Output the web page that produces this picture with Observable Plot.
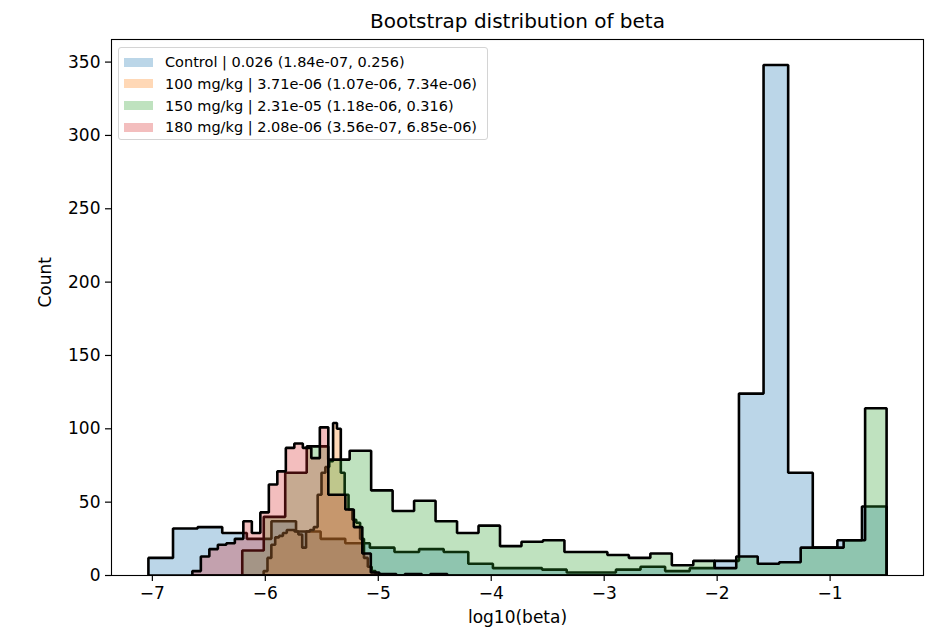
<!DOCTYPE html>
<html>
<head>
<meta charset="utf-8">
<script src="https://cdn.jsdelivr.net/npm/d3@7"></script>
<script src="https://cdn.jsdelivr.net/npm/@observablehq/plot@0.6"></script>
<style>
  body { margin: 0; background: #fff; font-family: "DejaVu Sans", sans-serif; }
  #wrap { position: relative; width: 938px; height: 638px; }
  #legend { position: absolute; left: 118px; top: 47px; width: 370px; height: 93px;
            border: 1px solid #d4d4d4; border-radius: 3px; background: rgba(255,255,255,0.8);
            box-sizing: border-box; }
  .row { position: absolute; left: 5px; height: 22px; display: flex; align-items: center;
         font-size: 14.5px; color: #000; white-space: nowrap; }
  .sw { width: 29px; height: 9px; margin-right: 12px; }
</style>
</head>
<body>
<div id="wrap"><div id="legend"></div></div>
<script>
// ---- data ----
const groups = ["Control", "100 mg/kg", "150 mg/kg", "180 mg/kg"];
const legendLabels = [
  "Control | 0.026 (1.84e-07, 0.256)",
  "100 mg/kg | 3.71e-06 (1.07e-06, 7.34e-06)",
  "150 mg/kg | 2.31e-05 (1.18e-06, 0.316)",
  "180 mg/kg | 2.08e-06 (3.56e-07, 6.85e-06)"
];
const colors = ["#1f77b4", "#ff7f0e", "#2ca02c", "#d62728"];

// each histogram: 30 bins over its own [min, max] of log10(beta)
const controlRange = [-7.035, -0.5];
const controlCounts = [12, 32, 33, 29, 25, 37, 30, 25, 22, 19, 16, 18, 16, 8, 5, 5, 4, 2, 2, 4, 6, 3, 5, 10, 124, 348, 70, 19, 24, 47];

const mg100Range = [-6.015, -4.99];
const mg100Counts = [3, 12, 21, 26, 27, 29, 31, 31, 30, 28, 19, 30, 31, 33, 55, 70, 74, 78, 104, 100, 70, 55, 45, 38, 36, 25, 12, 6, 3, 1];

const mg150Range = [-6.204, -0.5];
const mg150Counts = [17, 40, 70, 88, 79, 85, 58, 44, 51, 37, 29, 34, 20, 23, 24, 16, 16, 14, 12, 15, 7, 10, 5, 13, 8, 9, 19, 19, 24, 114];

const mg180Range = [-6.646, -4.389];
const mg180Counts = [3, 13, 18, 21, 22, 25, 37, 29, 43, 62, 71, 87, 90, 87, 80, 101, 55, 55, 45, 33, 15, 2, 1, 1, 0, 1, 1, 0, 1, 1];

const xTicks = [-7, -6, -5, -4, -3, -2, -1];
const yTicks = [0, 50, 100, 150, 200, 250, 300, 350];

// ---- build step outlines from bins ----
function stepPoints(group, range, counts) {
  const n = counts.length, [lo, hi] = range;
  const edges = d3.range(n + 1).map(i => lo + (hi - lo) * i / n);
  const pts = [{group, x: edges[0], y: 0}];
  counts.forEach((c, i) => pts.push({group, x: edges[i], y: c}));
  pts.push({group, x: edges[n], y: counts[n - 1]});
  pts.push({group, x: edges[n], y: 0});
  return pts;
}
const series = [
  stepPoints(groups[0], controlRange, controlCounts),
  stepPoints(groups[1], mg100Range, mg100Counts),
  stepPoints(groups[2], mg150Range, mg150Counts),
  stepPoints(groups[3], mg180Range, mg180Counts)
];

const allX = [controlRange, mg100Range, mg150Range, mg180Range].flat();
const xmin = d3.min(allX), xmax = d3.max(allX), pad = (xmax - xmin) * 0.05;
const ymax = d3.max([controlCounts, mg100Counts, mg150Counts, mg180Counts].flat()) * 1.05;

const marks = [];
series.forEach((pts, i) => {
  marks.push(Plot.areaY(pts, {x: "x", y1: 0, y2: "y", curve: "step-after", fill: colors[i], fillOpacity: 0.3}));
  marks.push(Plot.line([...pts, pts[0]], {x: "x", y: "y", curve: "step-after", stroke: "black", strokeWidth: 2.6, strokeLinejoin: "miter", clip: true}));
});

const chart = Plot.plot({
  width: 938, height: 638,
  marginLeft: 111, marginRight: 15, marginTop: 39, marginBottom: 63,
  style: {fontFamily: "DejaVu Sans", fontSize: "17px", color: "black", background: "white"},
  x: {domain: [xmin - pad, xmax + pad]},
  y: {domain: [0, ymax]},
  marks: [
    ...marks,
    Plot.frame({stroke: "black", strokeWidth: 1.1}),
    Plot.axisX(xTicks, {tickSize: 6, tickPadding: 5, fontSize: 17, label: null, strokeWidth: 1.2}),
    Plot.axisY(yTicks, {tickSize: 6, tickPadding: 5, fontSize: 17, label: null, strokeWidth: 1.2}),
    Plot.text(["log10(beta)"], {frameAnchor: "bottom", dy: 47, fontSize: 17, fill: "black"}),
    Plot.text(["Count"], {frameAnchor: "left", dx: -66, rotate: -90, fontSize: 17, fill: "black"}),
    Plot.text(["Bootstrap distribution of beta"], {frameAnchor: "top", dy: -26, fontSize: 20, fill: "black"})
  ]
});
const wrap = document.getElementById("wrap");
wrap.insertBefore(chart, wrap.firstChild);

const legend = document.getElementById("legend");
legendLabels.forEach((lab, i) => {
  const row = document.createElement("div");
  row.className = "row";
  row.style.top = (3 + i * 21.8) + "px";
  const sw = document.createElement("div");
  sw.className = "sw";
  sw.style.background = colors[i];
  sw.style.opacity = 0.3;
  const t = document.createElement("span");
  t.textContent = lab;
  row.appendChild(sw); row.appendChild(t);
  legend.appendChild(row);
});
</script>
</body>
</html>
